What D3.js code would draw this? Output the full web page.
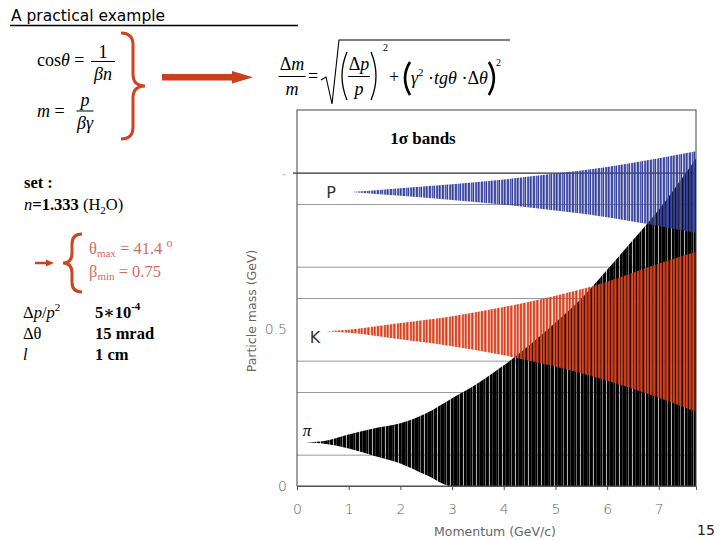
<!DOCTYPE html>
<html>
<head>
<meta charset="utf-8">
<script src="https://cdn.jsdelivr.net/npm/d3@7"></script>
<style>
  body { margin: 0; background: #fff; }
  svg { display: block; }
  .axis text { font-family: "DejaVu Sans", sans-serif; font-size: 14px; fill: #666; font-weight: 300; }
  .axis path, .axis line { stroke: #555; }
</style>
</head>
<body>
<svg id="slide" width="720" height="540"></svg>
<script>
// band edges (momentum in GeV/c, mass in GeV)
const pionP     = [0.16, 0.5, 1.0, 1.5, 2.0, 2.5, 3.0, 3.5, 4.0, 4.5, 5.0, 5.5, 6.0, 6.5, 7.0, 7.72];
const pionUpper = [0.140, 0.143, 0.164, 0.184, 0.200, 0.232, 0.280, 0.328, 0.385, 0.450, 0.522, 0.598, 0.690, 0.785, 0.882, 1.045];
const pionLower = [0.140, 0.136, 0.120, 0.096, 0.072, 0.035, 0.000, 0.000, 0.000, 0.000, 0.000, 0.000, 0.000, 0.000, 0.000, 0.000];

const kaonP     = [0.56, 1.0, 2.0, 3.0, 4.0, 5.0, 6.0, 7.0, 7.72];
const kaonUpper = [0.494, 0.499, 0.520, 0.542, 0.571, 0.607, 0.652, 0.710, 0.748];
const kaonLower = [0.494, 0.489, 0.468, 0.446, 0.417, 0.381, 0.336, 0.282, 0.237];

const protonP     = [1.06, 2.0, 3.0, 4.0, 5.0, 6.0, 7.0, 7.72];
const protonUpper = [0.938, 0.950, 0.963, 0.978, 0.997, 1.018, 1.046, 1.068];
const protonLower = [0.938, 0.926, 0.913, 0.898, 0.879, 0.858, 0.830, 0.808];

const xTicks = [0, 1, 2, 3, 4, 5, 6, 7];
const yLabels = [0, 0.5];
const gridValues = [0.1, 0.3, 0.4, 0.6, 0.7, 0.9];

const SERIF = '"Liberation Serif", "DejaVu Serif", serif';
const SANS = '"DejaVu Sans", "Liberation Sans", sans-serif';

const svg = d3.select('#slide');

// ---------- left side of the slide ----------
svg.append('text').attr('x', 11).attr('y', 21)
  .attr('font-family', '"Comic Sans MS", "DejaVu Sans", sans-serif')
  .attr('font-size', 15.5).attr('fill', '#000')
  .text('A practical example');
svg.append('line').attr('x1', 10).attr('x2', 298).attr('y1', 25.5).attr('y2', 25.5)
  .attr('stroke', '#000').attr('stroke-width', 1.5);

const red = '#cf4420';

// helper for a stacked fraction
function fraction(cx, yNum, yLine, yDen, num, den, w, size) {
  const g = svg.append('g').attr('font-family', SERIF).attr('font-size', size);
  g.append('text').attr('x', cx).attr('y', yNum).attr('text-anchor', 'middle').html(num);
  g.append('line').attr('x1', cx - w / 2).attr('x2', cx + w / 2).attr('y1', yLine).attr('y2', yLine)
    .attr('stroke', '#000').attr('stroke-width', 1);
  g.append('text').attr('x', cx).attr('y', yDen).attr('text-anchor', 'middle').html(den);
}

svg.append('text').attr('font-family', SERIF).attr('x', 37).attr('y', 66).attr('font-size', 18)
  .html('cos<tspan font-style="italic">θ</tspan> =');
fraction(103, 58, 61.5, 80, '1', '<tspan font-style="italic">βn</tspan>', 24, 18);

svg.append('text').attr('font-family', SERIF).attr('x', 37).attr('y', 117).attr('font-size', 18)
  .html('<tspan font-style="italic">m</tspan> =');
fraction(85, 106, 111, 129, '<tspan font-style="italic">p</tspan>', '<tspan font-style="italic">βγ</tspan>', 17, 18);

// big brace and arrow
svg.append('path')
  .attr('d', 'M121,33 Q133,33 133,45 L133,74 Q133,86 145,86 Q133,86 133,98 L133,127 Q133,139 121,139')
  .attr('fill', 'none').attr('stroke', red).attr('stroke-width', 3);
svg.append('rect').attr('x', 162).attr('y', 74).attr('width', 72).attr('height', 6.5).attr('fill', '#c8401c');
svg.append('path').attr('d', 'M232,71 L253,77.2 L232,83.5 Z').attr('fill', '#c8401c');

// resolution formula
const fx = svg.append('g').attr('font-family', SERIF);
fraction(292, 70, 76.5, 95, 'Δ<tspan font-style="italic">m</tspan>', '<tspan font-style="italic">m</tspan>', 27, 18);
fx.append('text').attr('x', 308).attr('y', 82).attr('font-size', 18).text('=');
fx.append('path').attr('d', 'M321,80 L326,77 L332,104 L339,40 L510,40')
  .attr('fill', 'none').attr('stroke', '#000').attr('stroke-width', 1.1);
fx.append('path').attr('d', 'M347,52 Q337,76 347,100').attr('fill', 'none').attr('stroke', '#000').attr('stroke-width', 1.3);
fraction(359, 70, 76.5, 95, 'Δ<tspan font-style="italic">p</tspan>', '<tspan font-style="italic">p</tspan>', 22, 18);
fx.append('path').attr('d', 'M371,52 Q381,76 371,100').attr('fill', 'none').attr('stroke', '#000').attr('stroke-width', 1.3);
fx.append('text').attr('x', 383).attr('y', 51).attr('font-size', 10).text('2');
fx.append('text').attr('x', 389).attr('y', 83).attr('font-size', 18).text('+');
fx.append('path').attr('d', 'M410,62 Q400,78 410,95').attr('fill', 'none').attr('stroke', '#000').attr('stroke-width', 2.6);
const inner = fx.append('text').attr('x', 411).attr('y', 84).attr('font-size', 18)
  .html('<tspan font-style="italic">γ</tspan><tspan font-size="11" dy="-8">2</tspan><tspan dy="8"> ·</tspan><tspan font-style="italic">tg</tspan><tspan font-style="italic">θ</tspan> ·Δ<tspan font-style="italic">θ</tspan>');
const innerEnd = 411 + inner.node().getComputedTextLength();
fx.append('path').attr('d', `M${innerEnd + 1},62 Q${innerEnd + 11},78 ${innerEnd + 1},95`)
  .attr('fill', 'none').attr('stroke', '#000').attr('stroke-width', 2.6);
fx.append('text').attr('x', innerEnd + 8).attr('y', 66).attr('font-size', 10).text('2');

// settings
const st = svg.append('g').attr('font-family', SERIF).attr('font-size', 16.5);
st.append('text').attr('x', 24).attr('y', 188).attr('font-weight', 'bold').text('set :');
st.append('text').attr('x', 24).attr('y', 210)
  .html('<tspan font-style="italic">n</tspan><tspan font-weight="bold">=1.333</tspan>  (H<tspan font-size="11" dy="4">2</tspan><tspan dy="-4">O)</tspan>');

svg.append('line').attr('x1', 35).attr('x2', 47).attr('y1', 263).attr('y2', 263).attr('stroke', red).attr('stroke-width', 2.5);
svg.append('path').attr('d', 'M46,259.5 L54,263 L46,266.5 Z').attr('fill', red);
svg.append('path')
  .attr('d', 'M82,234 Q72,234 72,244 L72,253 Q72,263 63,263 Q72,263 72,273 L72,282 Q72,292 82,292')
  .attr('fill', 'none').attr('stroke', red).attr('stroke-width', 3);
const pink = '#d46a66';
st.append('text').attr('x', 89).attr('y', 254).attr('fill', pink)
  .html('θ<tspan font-size="11" dy="3">max</tspan><tspan dy="-3"> = 41.4 </tspan><tspan font-size="12" dy="-7">o</tspan>');
st.append('text').attr('x', 89).attr('y', 277).attr('fill', pink)
  .html('β<tspan font-size="11" dy="3">min</tspan><tspan dy="-3"> = 0.75</tspan>');

st.append('text').attr('x', 23).attr('y', 318)
  .html('Δ<tspan font-style="italic">p</tspan>/<tspan font-style="italic">p</tspan><tspan font-size="11" dy="-7">2</tspan>');
st.append('text').attr('x', 95).attr('y', 318).attr('font-weight', 'bold')
  .html('5∗10<tspan font-size="11" dy="-8">-4</tspan>');
st.append('text').attr('x', 23).attr('y', 339).text('Δθ');
st.append('text').attr('x', 95).attr('y', 339).attr('font-weight', 'bold').text('15 mrad');
st.append('text').attr('x', 23).attr('y', 360).attr('font-style', 'italic').text('l');
st.append('text').attr('x', 95).attr('y', 360).attr('font-weight', 'bold').text('1 cm');

// ---------- chart ----------
const x = d3.scaleLinear().domain([0, 7.72]).range([297, 696]);
const y = d3.scaleLinear().domain([0, 1.2]).range([486, 110]);

const defs = svg.append('defs');
defs.append('clipPath').attr('id', 'plot-clip').append('rect')
  .attr('x', x(0)).attr('y', y(1.2)).attr('width', x(7.72) - x(0)).attr('height', y(0) - y(1.2));

// stripe texture of the bands
function stripes(id, color, ops) {
  const pat = defs.append('pattern').attr('id', id).attr('patternUnits', 'userSpaceOnUse')
    .attr('width', ops.length).attr('height', 540);
  ops.forEach((o, i) => {
    pat.append('rect').attr('x', i).attr('y', 0).attr('width', 1).attr('height', 540)
      .attr('fill', color).attr('fill-opacity', o);
  });
}
stripes('pion-fill', '#000', [1, 1, 0.85, 1, 0.55, 1, 1, 0.95, 0.3, 1, 1, 0.8, 1]);
stripes('kaon-fill', '#d8401c', [0.95, 0.9, 0.35, 0.8, 1, 0.55, 0.2, 0.9, 0.85, 0.45, 1, 0.7, 0.3]);
stripes('proton-fill', '#34409c', [0.95, 0.9, 0.3, 0.85, 0.6, 1, 0.2, 0.8, 0.9, 0.45, 1, 0.7, 0.35]);

// grid
svg.append('g').selectAll('line').data(gridValues).enter().append('line')
  .attr('x1', x(0)).attr('x2', x(7.72))
  .attr('y1', d => y(d) + 0.5).attr('y2', d => y(d) + 0.5)
  .attr('stroke', '#9a9a9a').attr('stroke-width', 1);
svg.append('line').attr('x1', x(0) - 4).attr('x2', x(7.72))
  .attr('y1', y(1.0) + 0.5).attr('y2', y(1.0) + 0.5)
  .attr('stroke', '#333').attr('stroke-width', 1.2);

const area = d3.area().curve(d3.curveMonotoneX);
function band(ps, lo, hi, fill) {
  const pts = ps.map((p, i) => ({ p: p, lo: lo[i], hi: hi[i] }));
  svg.append('path').datum(pts)
    .attr('clip-path', 'url(#plot-clip)')
    .attr('d', area.x(d => x(d.p)).y0(d => y(d.lo)).y1(d => y(d.hi)))
    .attr('fill', fill);
}
band(pionP, pionLower, pionUpper, 'url(#pion-fill)');
band(kaonP, kaonLower, kaonUpper, 'url(#kaon-fill)');
band(protonP, protonLower, protonUpper, 'url(#proton-fill)');

// frame
svg.append('rect').attr('x', x(0)).attr('y', y(1.2)).attr('width', x(7.72) - x(0)).attr('height', y(0) - y(1.2))
  .attr('fill', 'none').attr('stroke', '#444').attr('stroke-width', 1);

// axes
svg.append('g').attr('class', 'axis').attr('transform', `translate(0,${y(0)})`)
  .call(d3.axisBottom(x).tickValues(xTicks).tickSize(4).tickPadding(14).tickFormat(d3.format('d')));

svg.append('g').attr('class', 'axis').selectAll('text').data(yLabels).enter().append('text')
  .attr('x', 287).attr('y', d => y(d)).attr('dy', '0.35em').attr('text-anchor', 'end')
  .text(d => d === 0 ? '0' : d);
svg.append('line').attr('x1', 283).attr('x2', 286).attr('y1', y(1.0) + 2).attr('y2', y(1.0) + 2)
  .attr('stroke', '#bbb');

svg.append('text').attr('font-family', SANS).attr('x', 495).attr('y', 536).attr('text-anchor', 'middle')
  .attr('font-size', 12.5).attr('fill', '#666').text('Momentum (GeV/c)');
svg.append('text').attr('font-family', SANS).attr('transform', 'translate(256,311) rotate(-90)')
  .attr('text-anchor', 'middle').attr('font-size', 12.5).attr('fill', '#666').text('Particle mass (GeV)');

// band labels
svg.append('text').attr('font-family', SERIF).attr('x', 423).attr('y', 144).attr('text-anchor', 'middle')
  .attr('font-size', 17).attr('font-weight', 'bold').text('1σ bands');
svg.append('text').attr('font-family', SANS).attr('x', 331).attr('y', 198).attr('text-anchor', 'middle')
  .attr('font-size', 16).attr('fill', '#333').text('P');
svg.append('text').attr('font-family', SANS).attr('x', 315).attr('y', 343).attr('text-anchor', 'middle')
  .attr('font-size', 16).attr('fill', '#333').text('K');
svg.append('text').attr('font-family', SERIF).attr('x', 307).attr('y', 436).attr('text-anchor', 'middle')
  .attr('font-size', 17).attr('font-style', 'italic').text('π');

// page number
svg.append('text').attr('font-family', SANS).attr('x', 697).attr('y', 535)
  .attr('font-size', 14).attr('fill', '#222').text('15');
</script>
</body>
</html>
